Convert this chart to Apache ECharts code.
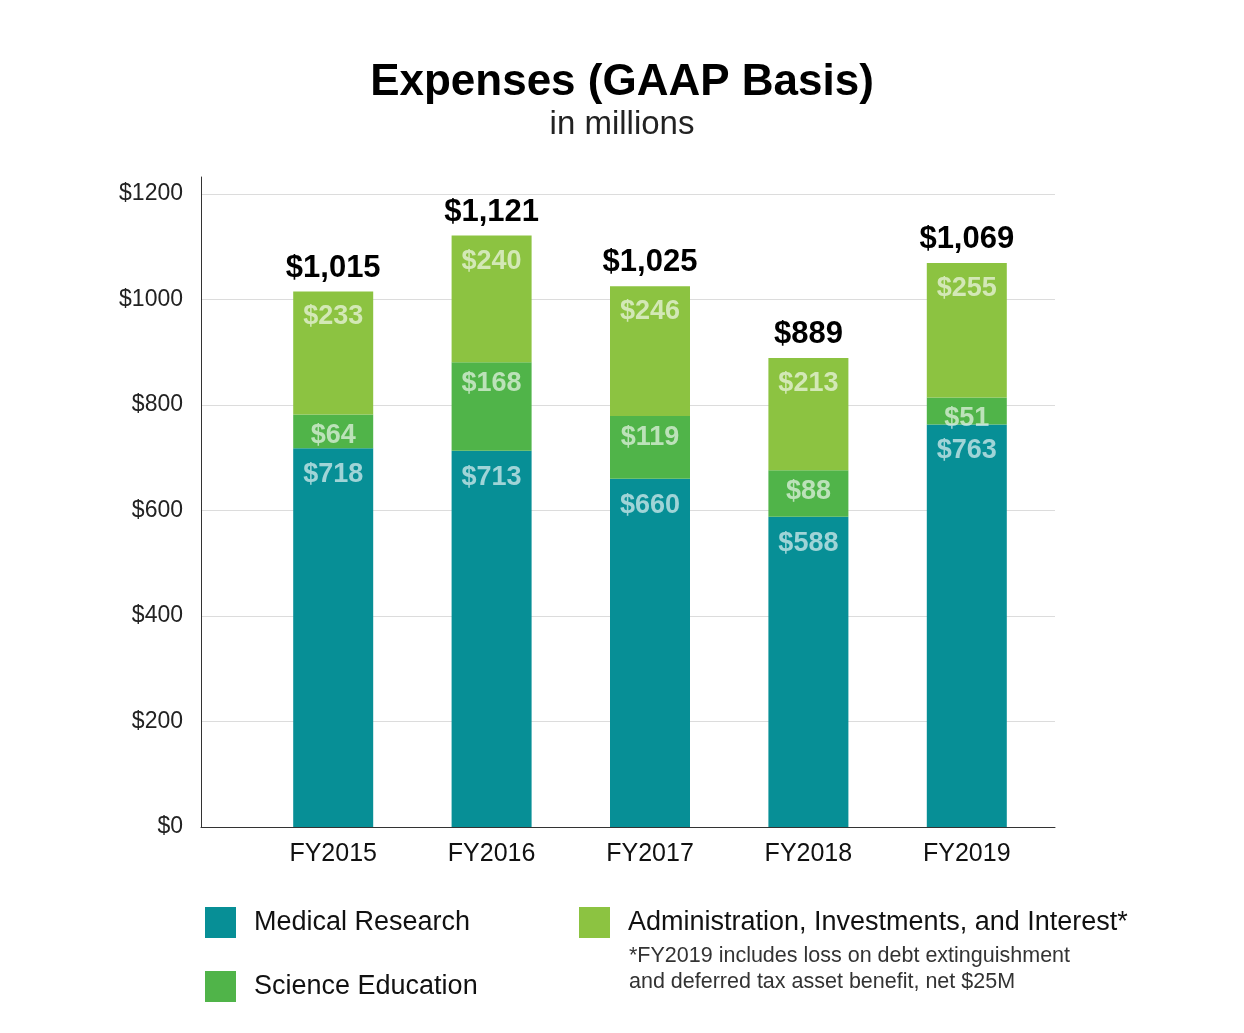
<!DOCTYPE html>
<html><head><meta charset="utf-8">
<script src="https://cdn.jsdelivr.net/npm/echarts@6/dist/echarts.min.js"></script>
<style>html,body{margin:0;padding:0;background:#fff}#c{width:1244px;height:1033px}</style>
</head><body><div id="c"></div>
<script>
const categories = ['FY2015','FY2016','FY2017','FY2018','FY2019'];
const medicalResearch = [718, 713, 660, 588, 763];
const scienceEducation = [64, 168, 119, 88, 51];
const adminInvestInterest = [233, 240, 246, 213, 255];
const totals = ['$1,015', '$1,121', '$1,025', '$889', '$1,069'];
const yTicks = [0, 200, 400, 600, 800, 1000, 1200];

const FONT = '"Liberation Sans", Arial, Helvetica, sans-serif';
const C_MED = '#078f96', C_SCI = '#50b449', C_ADM = '#8cc341';
const mkLabel = d => ({show:true, position:'insideTop', distance:d, color:'rgba(255,255,255,0.62)', fontSize:27, fontWeight:'bold', fontFamily:FONT, formatter: p => '$' + p.value});

const chart = echarts.init(document.getElementById('c'));
chart.setOption({
  backgroundColor:'#fff',
  animation:false,
  title:[
    {text:'Expenses (GAAP Basis)', left:'center', top:56, textStyle:{fontSize:44, fontWeight:'bold', color:'#000', fontFamily:FONT}},
    {text:'in millions', left:'center', top:103, textStyle:{fontSize:33, fontWeight:'normal', color:'#222', fontFamily:FONT}},
    {text:'*FY2019 includes loss on debt extinguishment\nand deferred tax asset benefit, net $25M', left:624, top:938, textStyle:{fontSize:21.5, fontWeight:'normal', color:'#333', lineHeight:26, fontFamily:FONT}}
  ],
  legend:[
    {data:['Medical Research','Science Education'], orient:'vertical', left:200, top:902, itemWidth:31, itemHeight:31, itemGap:33, icon:'rect', selectedMode:false,
     textStyle:{fontSize:27, color:'#111', fontFamily:FONT, padding:[0,0,0,13]}},
    {data:['Administration, Investments, and Interest*'], left:574, top:902, itemWidth:31, itemHeight:31, icon:'rect', selectedMode:false,
     textStyle:{fontSize:27, color:'#111', fontFamily:FONT, padding:[0,0,0,13]}}
  ],
  grid:[
    {left:201, right:189, top:177, bottom:206},
    {left:254, right:198, top:177, bottom:206}
  ],
  xAxis:[
    {type:'value', gridIndex:0, min:0, max:1, axisLine:{show:true, lineStyle:{color:'#333', width:1}}, axisTick:{show:false}, axisLabel:{show:false}, splitLine:{show:false}},
    {type:'category', gridIndex:1, data:categories, axisLine:{show:false}, axisTick:{show:false},
     axisLabel:{fontSize:25, color:'#111', margin:15, fontFamily:FONT}}
  ],
  yAxis:[
    {type:'value', gridIndex:0, min:0, max:1232, interval:200,
     axisLine:{show:true, lineStyle:{color:'#333', width:1}}, axisTick:{show:false},
     axisLabel:{showMaxLabel:false, fontSize:23, color:'#222', margin:18, fontFamily:FONT, formatter: v => yTicks.includes(v) ? '$' + v : ''},
     splitLine:{show:true, showMaxLine:false, lineStyle:{color:'#dcdcdc', width:1}}},
    {type:'value', gridIndex:1, min:0, max:1232, show:false, splitLine:{show:false}}
  ],
  series:[
    {name:'Medical Research', type:'bar', xAxisIndex:1, yAxisIndex:1, stack:'t', barWidth:80, data:medicalResearch, itemStyle:{color:C_MED}, label:mkLabel(13)},
    {name:'Science Education', type:'bar', xAxisIndex:1, yAxisIndex:1, stack:'t', barWidth:80, data:scienceEducation, itemStyle:{color:C_SCI}, label:mkLabel(8)},
    {name:'Administration, Investments, and Interest*', type:'bar', xAxisIndex:1, yAxisIndex:1, stack:'t', barWidth:80, data:adminInvestInterest, itemStyle:{color:C_ADM}, label:mkLabel(12)},
    {name:'Total', type:'bar', xAxisIndex:1, yAxisIndex:1, stack:'t', barWidth:80, data:categories.map(() => 0), itemStyle:{color:'transparent'},
     label:{show:true, position:'top', distance:8, color:'#000', fontSize:31, fontWeight:'bold', fontFamily:FONT, formatter: p => totals[p.dataIndex]}}
  ]
});
</script></body></html>
